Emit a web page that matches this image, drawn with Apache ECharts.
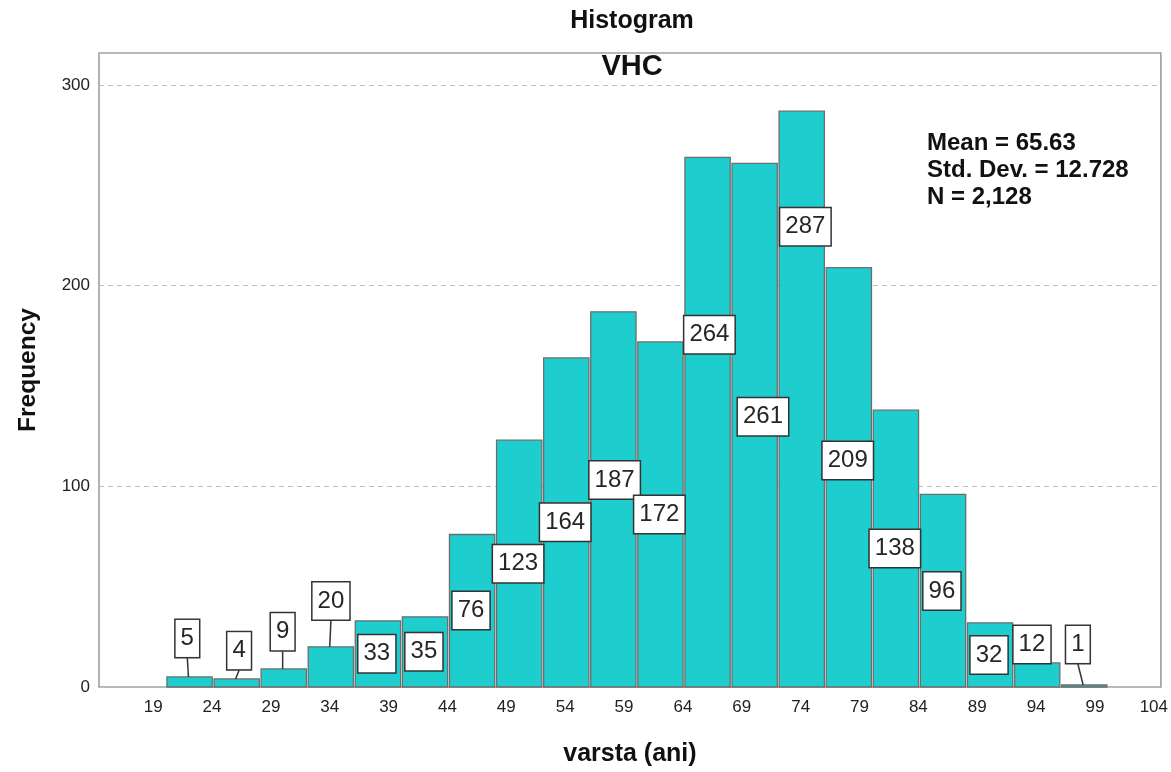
<!DOCTYPE html>
<html>
<head>
<meta charset="utf-8">
<script src="https://cdn.jsdelivr.net/npm/echarts@6/dist/echarts.min.js"></script>
<style>
html,body{margin:0;padding:0;background:#fff;}
#chart{width:1171px;height:772px;}
</style>
</head>
<body>
<div id="chart"></div>
<script>
// ---- data ----
const binStart = [20,24,28,32,36,40,44,48,52,56,60,64,68,72,76,80,84,88,92,96];
const binEnd   = [24,28,32,36,40,44,48,52,56,60,64,68,72,76,80,84,88,92,96,100];
const counts   = [5,4,9,20,33,35,76,123,164,187,172,264,261,287,209,138,96,32,12,1];
// where each value label box sits (frequency units) and its horizontal shift (age units)
const labelAt    = [24.2,18.1,27.5,42.9,16.6,17.6,38.1,61.4,82.1,103.2,86,175.6,134.7,229.4,112.9,69,47.9,15.9,21.2,21.2];
const labelShift = [-0.1,0.3,0,0.1,0,0,0,0,0,0.2,0,0.25,0.8,0.4,0,0,0,0,-0.35,-0.45];
const xTicks = [19,24,29,34,39,44,49,54,59,64,69,74,79,84,89,94,99,104];
const yTicks = [0,100,200,300];
const statLines = ['Mean = 65.63','Std. Dev. = 12.728','N = 2,128'];
const chartTitle = 'Histogram';
const chartSubtitle = 'VHC';
const xName = 'varsta (ani)';
const yName = 'Frequency';

const FONT = '"Liberation Sans", Arial, sans-serif';
const seriesData = binStart.map((s, i) => [s, binEnd[i], counts[i], labelAt[i], labelShift[i]]);

const chart = echarts.init(document.getElementById('chart'), null, {renderer: 'canvas'});

function renderItem(params, api) {
  const s = api.value(0), e = api.value(1), c = api.value(2), ly = api.value(3), lx = api.value(4);
  const p0 = api.coord([s, c]);
  const p1 = api.coord([e, 0]);
  const mid = api.coord([(s + e) / 2, c]);
  const lp = api.coord([(s + e) / 2 + lx, ly]);
  const half = 19.5;
  const children = [{
    type: 'rect',
    shape: {x: p0[0] + 2, y: p0[1], width: p1[0] - p0[0] - 1.8, height: p1[1] - p0[1]},
    style: {fill: '#1ecdcd', stroke: '#6e6e6e', lineWidth: 1.3},
    z2: 1
  }];
  if (lp[1] + half < p0[1] - 1) {
    children.push({
      type: 'line',
      shape: {x1: lp[0], y1: lp[1] + half, x2: mid[0], y2: p0[1]},
      style: {stroke: '#333', lineWidth: 1.5},
      z2: 50
    });
  }
  children.push({
    type: 'text',
    x: lp[0], y: lp[1],
    style: {
      text: String(c),
      fill: '#262626',
      fontSize: 24,
      fontFamily: FONT,
      lineHeight: 26,
      align: 'center',
      verticalAlign: 'middle',
      backgroundColor: '#fff',
      borderColor: '#333',
      borderWidth: 1.5,
      padding: [6, 5, 5, 5]
    },
    z2: 100
  });
  return {type: 'group', children};
}

const option = {
  backgroundColor: '#fff',
  animation: false,
  grid: {
    left: 99, right: 8, top: 53, bottom: 82,
    show: true, borderColor: '#9e9e9e', borderWidth: 1.6, backgroundColor: '#fff'
  },
  xAxis: {
    type: 'value',
    min: 14.4, max: 104.6,
    name: xName,
    nameLocation: 'middle',
    nameGap: 55,
    nameTextStyle: {fontFamily: FONT, fontSize: 25, fontWeight: 'bold', color: '#111'},
    axisLine: {show: false},
    axisTick: {show: false},
    splitLine: {show: false},
    axisLabel: {
      customValues: xTicks,
      fontFamily: FONT, fontSize: 17, color: '#222', margin: 12
    }
  },
  yAxis: {
    type: 'value',
    min: 0, max: 316, interval: 100,
    name: yName,
    nameLocation: 'middle',
    nameGap: 58,
    nameTextStyle: {fontFamily: FONT, fontSize: 24.5, fontWeight: 'bold', color: '#111'},
    axisLine: {show: false},
    axisTick: {show: false},
    splitLine: {show: true, lineStyle: {type: [5, 4], color: '#bdbdbd', width: 1.2}},
    axisLabel: {
      customValues: yTicks,
      fontFamily: FONT, fontSize: 17, color: '#222', margin: 9
    }
  },
  graphic: [
    {type: 'text', x: 632, y: 21, style: {text: chartTitle, font: 'bold 25px ' + FONT, fill: '#111', align: 'center', verticalAlign: 'middle'}},
    {type: 'text', x: 632, y: 67, z: 10, style: {text: chartSubtitle, font: 'bold 29px ' + FONT, fill: '#111', align: 'center', verticalAlign: 'middle'}},
    {type: 'text', x: 927, y: 130, z: 10, style: {text: statLines.join('\n'), font: 'bold 24px ' + FONT, lineHeight: 27, fill: '#111', align: 'left', verticalAlign: 'top'}}
  ],
  series: [{
    type: 'custom',
    renderItem: renderItem,
    encode: {x: [0, 1], y: [2, 3]},
    data: seriesData,
    clip: false,
    z: 3
  }]
};
chart.setOption(option);
</script>
</body>
</html>
